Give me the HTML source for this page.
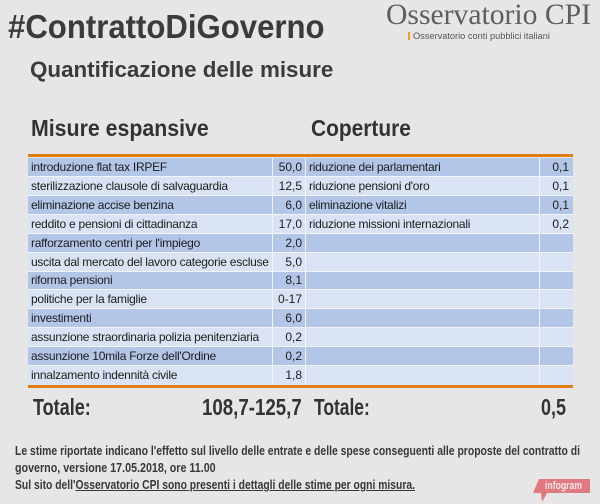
<!DOCTYPE html>
<html>
<head>
<meta charset="utf-8">
<style>
  html,body{margin:0;padding:0;}
  body{width:600px;height:504px;background:#e6e6e6;position:relative;overflow:hidden;font-family:"Liberation Sans",Arial,sans-serif;}
  .a{position:absolute;white-space:nowrap;}
  .tl{transform-origin:0 50%;}
  .tr{transform-origin:100% 50%;}
  .row{position:absolute;left:28px;width:545px;background:#f3f4f7;}
  .c{position:absolute;top:0;font-size:12px;color:#1c1c1c;letter-spacing:-0.25px;overflow:hidden;white-space:nowrap;box-sizing:border-box;}
  .c1{left:0;width:244px;padding-left:3px;}
  .c2{left:245px;width:32px;text-align:right;padding-right:3px;letter-spacing:0;}
  .c3{left:278px;width:233px;padding-left:3px;}
  .c4{left:512px;width:33px;text-align:right;padding-right:4px;letter-spacing:0;}
  .d .c{background:#b4c6e7;}
  .l .c{background:#dae3f3;}
  .foot{font-weight:bold;font-size:13px;line-height:13px;color:#383838;}
</style>
</head>
<body>

<div id="t1" class="a tl" style="left:8px;top:10px;font-weight:bold;font-size:33px;line-height:33px;color:#3b3b3b;">#ContrattoDiGoverno</div>

<div id="osc" class="a tl" style="left:386px;top:1px;font-family:'Liberation Serif',serif;font-size:29.5px;line-height:29.5px;color:#5e5e5e;">Osservatorio CPI</div>
<div class="a" style="left:408px;top:32px;width:2px;height:8px;background:#f0a020;"></div>
<div id="sub" class="a tl" style="left:413px;top:31px;font-size:9.3px;line-height:10px;color:#555;">Osservatorio conti pubblici italiani</div>

<div id="t2" class="a tl" style="left:30px;top:59px;font-weight:bold;font-size:22px;line-height:22px;color:#3b3b3b;">Quantificazione delle misure</div>

<div id="h1" class="a tl" style="left:31px;top:117px;font-weight:bold;font-size:23px;line-height:23px;color:#333;">Misure espansive</div>
<div id="h2" class="a tl" style="left:311px;top:117px;font-weight:bold;font-size:23px;line-height:23px;color:#333;">Coperture</div>

<!-- orange top line -->
<div class="a" style="left:28px;top:154px;width:545px;height:3px;background:#e07d14;"></div>

<!-- rows -->
<div class="row d" style="top:158px;height:19px;">
  <div class="c c1" style="height:18px;line-height:18px;">introduzione flat tax IRPEF</div>
  <div class="c c2" style="height:18px;line-height:18px;">50,0</div>
  <div class="c c3" style="height:18px;line-height:18px;">riduzione dei parlamentari</div>
  <div class="c c4" style="height:18px;line-height:18px;">0,1</div>
</div>
<div class="row l" style="top:177px;height:19px;">
  <div class="c c1" style="height:18px;line-height:18px;">sterilizzazione clausole di salvaguardia</div>
  <div class="c c2" style="height:18px;line-height:18px;">12,5</div>
  <div class="c c3" style="height:18px;line-height:18px;">riduzione pensioni d'oro</div>
  <div class="c c4" style="height:18px;line-height:18px;">0,1</div>
</div>
<div class="row d" style="top:196px;height:19px;">
  <div class="c c1" style="height:18px;line-height:18px;">eliminazione accise benzina</div>
  <div class="c c2" style="height:18px;line-height:18px;">6,0</div>
  <div class="c c3" style="height:18px;line-height:18px;">eliminazione vitalizi</div>
  <div class="c c4" style="height:18px;line-height:18px;">0,1</div>
</div>
<div class="row l" style="top:215px;height:19px;">
  <div class="c c1" style="height:18px;line-height:18px;">reddito e pensioni di cittadinanza</div>
  <div class="c c2" style="height:18px;line-height:18px;">17,0</div>
  <div class="c c3" style="height:18px;line-height:18px;">riduzione missioni internazionali</div>
  <div class="c c4" style="height:18px;line-height:18px;">0,2</div>
</div>
<div class="row d" style="top:234px;height:19px;">
  <div class="c c1" style="height:18px;line-height:18px;">rafforzamento centri per l'impiego</div>
  <div class="c c2" style="height:18px;line-height:18px;">2,0</div>
  <div class="c c3" style="height:18px;line-height:18px;"></div>
  <div class="c c4" style="height:18px;line-height:18px;"></div>
</div>
<div class="row l" style="top:253px;height:19px;">
  <div class="c c1" style="height:18px;line-height:18px;">uscita dal mercato del lavoro categorie escluse</div>
  <div class="c c2" style="height:18px;line-height:18px;">5,0</div>
  <div class="c c3" style="height:18px;line-height:18px;"></div>
  <div class="c c4" style="height:18px;line-height:18px;"></div>
</div>
<div class="row d" style="top:272px;height:18px;">
  <div class="c c1" style="height:17px;line-height:17px;">riforma pensioni</div>
  <div class="c c2" style="height:17px;line-height:17px;">8,1</div>
  <div class="c c3" style="height:17px;line-height:17px;"></div>
  <div class="c c4" style="height:17px;line-height:17px;"></div>
</div>
<div class="row l" style="top:290px;height:19px;">
  <div class="c c1" style="height:18px;line-height:18px;">politiche per la famiglie</div>
  <div class="c c2" style="height:18px;line-height:18px;">0-17</div>
  <div class="c c3" style="height:18px;line-height:18px;"></div>
  <div class="c c4" style="height:18px;line-height:18px;"></div>
</div>
<div class="row d" style="top:309px;height:19px;">
  <div class="c c1" style="height:18px;line-height:18px;">investimenti</div>
  <div class="c c2" style="height:18px;line-height:18px;">6,0</div>
  <div class="c c3" style="height:18px;line-height:18px;"></div>
  <div class="c c4" style="height:18px;line-height:18px;"></div>
</div>
<div class="row l" style="top:328px;height:19px;">
  <div class="c c1" style="height:18px;line-height:18px;">assunzione straordinaria polizia penitenziaria</div>
  <div class="c c2" style="height:18px;line-height:18px;">0,2</div>
  <div class="c c3" style="height:18px;line-height:18px;"></div>
  <div class="c c4" style="height:18px;line-height:18px;"></div>
</div>
<div class="row d" style="top:347px;height:19px;">
  <div class="c c1" style="height:18px;line-height:18px;">assunzione 10mila Forze dell'Ordine</div>
  <div class="c c2" style="height:18px;line-height:18px;">0,2</div>
  <div class="c c3" style="height:18px;line-height:18px;"></div>
  <div class="c c4" style="height:18px;line-height:18px;"></div>
</div>
<div class="row l" style="top:366px;height:19px;">
  <div class="c c1" style="height:19px;line-height:19px;">innalzamento indennità civile</div>
  <div class="c c2" style="height:19px;line-height:19px;">1,8</div>
  <div class="c c3" style="height:19px;line-height:19px;"></div>
  <div class="c c4" style="height:19px;line-height:19px;"></div>
</div>

<!-- orange bottom line -->
<div class="a" style="left:28px;top:385px;width:545px;height:3px;background:#e07d14;"></div>

<!-- totals -->
<div id="tot1" class="a tl" style="left:33px;top:396px;font-weight:bold;font-size:23px;line-height:23px;color:#333;">Totale:</div>
<div id="tot1v" class="a tr" style="right:298px;top:396px;font-weight:bold;font-size:23px;line-height:23px;color:#333;">108,7-125,7</div>
<div id="tot2" class="a tl" style="left:314px;top:396px;font-weight:bold;font-size:23px;line-height:23px;color:#333;">Totale:</div>
<div id="tot2v" class="a tr" style="right:34px;top:396px;font-weight:bold;font-size:23px;line-height:23px;color:#333;">0,5</div>

<!-- footnote -->
<div id="f1" class="a tl foot" style="left:15px;top:444px;">Le stime riportate indicano l'effetto sul livello delle entrate e delle spese conseguenti alle proposte del contratto di</div>
<div id="f2" class="a tl foot" style="left:15px;top:461px;">governo, versione 17.05.2018, ore 11.00</div>
<div id="f3" class="a tl foot" style="left:15px;top:478px;">Sul sito dell'<span style="text-decoration:underline;">Osservatorio CPI sono presenti i dettagli delle stime per ogni misura.</span></div>

<!-- infogram badge -->
<svg class="a" style="left:0;top:0;" width="600" height="504" viewBox="0 0 600 504">
  <polygon points="539,479 590,479 590,493 547,493 542,502 541,493 533,493" fill="#e07a80"/>
</svg>
<div id="ig" class="a tl" style="left:545px;top:481px;font-weight:bold;font-size:11px;line-height:11px;color:#fbe4e6;">infogram</div>

<script>
(function(){
  var fits=[['t1',317],['osc',205],['sub',137],['t2',303],['h1',178],['h2',100],
            ['tot1',58],['tot1v',100],['tot2',56],['tot2v',25],
            ['f1',565],['f2',201],['f3',400],['ig',37]];
  for(var i=0;i<fits.length;i++){
    var el=document.getElementById(fits[i][0]);
    if(!el) continue;
    var w=el.offsetWidth;
    if(w>0){ el.style.transform='scaleX('+(fits[i][1]/w)+')'; }
  }
})();
</script>
</body>
</html>
